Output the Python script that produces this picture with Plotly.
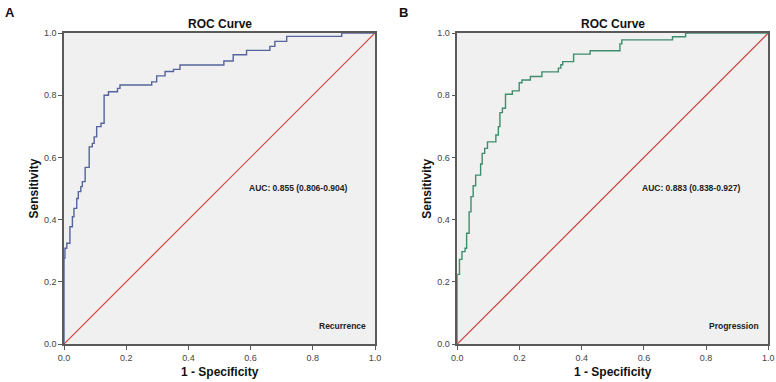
import plotly.graph_objects as go

# Panel A (Recurrence) ROC step vertices: top of each vertical step
fpr_recurrence = [0, 0, 0.003, 0.009, 0.019, 0.027, 0.032, 0.041, 0.046, 0.054, 0.059, 0.068,
                  0.081, 0.091, 0.097, 0.105, 0.119, 0.129, 0.143, 0.172, 0.180, 0.282, 0.298,
                  0.325, 0.352, 0.373, 0.514, 0.544, 0.587, 0.662, 0.678, 0.716, 0.893, 1.0]
tpr_recurrence = [0, 0.276, 0.308, 0.324, 0.377, 0.409, 0.436, 0.468, 0.490, 0.506, 0.522, 0.568,
                  0.634, 0.645, 0.666, 0.699, 0.710, 0.800, 0.811, 0.822, 0.833, 0.843, 0.862,
                  0.876, 0.883, 0.897, 0.910, 0.930, 0.944, 0.957, 0.973, 0.989, 1.0, 1.0]

# Panel B (Progression)
fpr_progression = [0, 0, 0.007, 0.015, 0.025, 0.030, 0.038, 0.044, 0.051, 0.059, 0.075, 0.080,
                   0.088, 0.097, 0.124, 0.132, 0.137, 0.145, 0.155, 0.177, 0.199, 0.208, 0.235,
                   0.272, 0.325, 0.333, 0.339, 0.374, 0.427, 0.523, 0.529, 0.692, 0.734, 1.0]
tpr_progression = [0, 0.224, 0.272, 0.297, 0.308, 0.356, 0.425, 0.474, 0.509, 0.543, 0.579, 0.613,
                   0.629, 0.650, 0.672, 0.699, 0.744, 0.758, 0.803, 0.814, 0.840, 0.849, 0.860,
                   0.875, 0.887, 0.898, 0.908, 0.932, 0.943, 0.965, 0.978, 0.988, 1.0, 1.0]

ref_line = [0, 1]
tick_vals = [0.0, 0.2, 0.4, 0.6, 0.8, 1.0]
tick_text = ["0.0", "0.2", "0.4", "0.6", "0.8", "1.0"]
auc_labels = ["AUC: 0.855 (0.806-0.904)", "AUC: 0.883 (0.838-0.927)"]
outcome_labels = ["Recurrence", "Progression"]
panel_letters = ["A", "B"]

W, H = 776, 382
FONT = "Arial, Liberation Sans, sans-serif"

fig = go.Figure()

fig.add_trace(go.Scatter(x=ref_line, y=ref_line, mode="lines", line=dict(color="#d9443c", width=1.2),
                         xaxis="x", yaxis="y", showlegend=False, hoverinfo="skip"))
fig.add_trace(go.Scatter(x=fpr_recurrence, y=tpr_recurrence, mode="lines", line_shape="hv",
                         line=dict(color="#55649c", width=1.4), xaxis="x", yaxis="y", showlegend=False))
fig.add_trace(go.Scatter(x=ref_line, y=ref_line, mode="lines", line=dict(color="#c8443e", width=1.2),
                         xaxis="x2", yaxis="y2", showlegend=False, hoverinfo="skip"))
fig.add_trace(go.Scatter(x=fpr_progression, y=tpr_progression, mode="lines", line_shape="hv",
                         line=dict(color="#3e8d6c", width=1.4), xaxis="x2", yaxis="y2", showlegend=False))

ydom = [(H - 344) / H, (H - 33) / H]
xdomA = [64 / W, 375 / W]
xdomB = [457.3 / W, 768.3 / W]

axis_common = dict(range=[0, 1], tickvals=tick_vals, ticktext=tick_text, showgrid=False, zeroline=False,
                   showline=True, linecolor="#5a5a5a", linewidth=1.5, mirror=True,
                   ticks="outside", ticklen=4, tickcolor="#5a5a5a", tickwidth=1, automargin=False,
                   tickfont=dict(family=FONT, size=9, color="#444"), showspikes=False)

title_font = dict(family=FONT, size=12, color="#111")

fig.update_layout(
    width=W, height=H, autosize=False,
    margin=dict(l=0, r=0, t=0, b=0, pad=0),
    paper_bgcolor="white", plot_bgcolor="#f0f0f0",
    hovermode=False,
    xaxis=dict(domain=xdomA, anchor="y", **axis_common),
    yaxis=dict(domain=ydom, anchor="x", **axis_common),
    xaxis2=dict(domain=xdomB, anchor="y2", **axis_common),
    yaxis2=dict(domain=ydom, anchor="x2", **axis_common),
)

annotations = []
for i, (xd, xa, ya) in enumerate([(xdomA, "x", "y"), (xdomB, "x2", "y2")]):
    cx = (xd[0] + xd[1]) / 2
    annotations.append(dict(text="<b>ROC Curve</b>", x=cx, y=(H - 24) / H, xref="paper", yref="paper",
                            showarrow=False, font=dict(family=FONT, size=12, color="#111"),
                            xanchor="center", yanchor="middle"))
    annotations.append(dict(text="<b>1 - Specificity</b>", x=cx, y=(H - 372) / H, xref="paper",
                            yref="paper", showarrow=False, font=title_font,
                            xanchor="center", yanchor="middle"))
    annotations.append(dict(text="<b>Sensitivity</b>", x=(xd[0] * W - 31) / W, y=(ydom[0] + ydom[1]) / 2,
                            xref="paper", yref="paper", showarrow=False, font=title_font, textangle=-90,
                            xanchor="center", yanchor="middle"))
    annotations.append(dict(text="<b>" + auc_labels[i] + "</b>", x=0.915, y=0.5, xref=xa, yref=ya,
                            showarrow=False, font=dict(family=FONT, size=8.5, color="#222"),
                            xanchor="right", yanchor="middle"))
    annotations.append(dict(text="<b>" + outcome_labels[i] + "</b>", x=0.977, y=0.058, xref=xa, yref=ya,
                            showarrow=False, font=dict(family=FONT, size=8.5, color="#222"),
                            xanchor="right", yanchor="middle"))
    annotations.append(dict(text="<b>" + panel_letters[i] + "</b>", x=(xd[0] * W - 54) / W,
                            y=(H - 12) / H, xref="paper", yref="paper", showarrow=False,
                            font=dict(family=FONT, size=13, color="#111"), xanchor="center", yanchor="middle"))

fig.update_layout(annotations=annotations)
fig.write_html("out.html", config={"displayModeBar": False},
               post_script="document.body.style.margin='0';document.body.style.padding='0';")
